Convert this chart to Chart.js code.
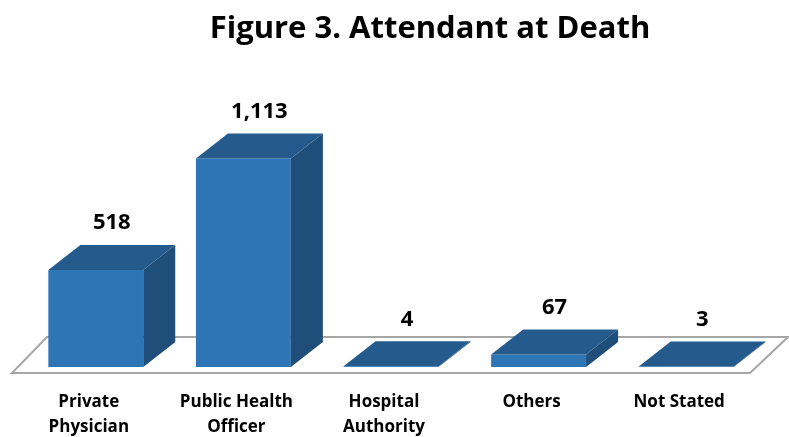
<!DOCTYPE html>
<html>
<head>
<meta charset="utf-8">
<script src="https://cdn.jsdelivr.net/npm/chart.js@4.4.1/dist/chart.umd.min.js"></script>
<style>
  html, body { margin: 0; padding: 0; background: #fff; }
  #wrap { width: 789px; height: 437px; }
</style>
</head>
<body>
<div id="wrap"><canvas id="attendantChart" width="789" height="437"></canvas></div>
<script>
const categories = [['Private', 'Physician'], ['Public Health', 'Officer'], ['Hospital', 'Authority'], 'Others', 'Not Stated'];
const attendantCounts = [518, 1113, 4, 67, 3];
const chartTitle = 'Figure 3. Attendant at Death';

// colours for the 3D faces
const frontColor = '#2E75B6';
const topColor = '#255A8C';
const sideColor = '#1F4E7A';
const depthX = 32;
const depthY = -25;
const fontFamily = '"Open Sans", sans-serif';

const bar3d = {
    id: 'bar3d',
    afterLayout(chart) {
        // Excel centres the title a bit right of the canvas centre
        const t = chart.titleBlock;
        if (t) { t.left += 39; t.right += 39; }
    },
    beforeDatasetsDraw(chart) {
        const { ctx, chartArea } = chart;
        const base = chart.scales.y.getPixelForValue(0);
        const fy = base + 6;
        const by = base - 30;
        ctx.save();
        ctx.beginPath();
        ctx.moveTo(chartArea.left - 10, fy);
        ctx.lineTo(chartArea.right - 10, fy);
        ctx.lineTo(chartArea.right + 28, by);
        ctx.lineTo(chartArea.left + 25, by);
        ctx.closePath();
        ctx.fillStyle = '#fff';
        ctx.fill();
        ctx.strokeStyle = '#A6A6A6';
        ctx.lineWidth = 2;
        ctx.stroke();
        ctx.restore();
    },
    afterDatasetsDraw(chart) {
        const { ctx } = chart;
        const meta = chart.getDatasetMeta(0);
        ctx.save();
        meta.data.forEach((el, i) => {
            const { x, y, base, width } = el.getProps(['x', 'y', 'base', 'width'], true);
            const l = x - width / 2;
            const r = x + width / 2;

            // top face
            ctx.beginPath();
            ctx.moveTo(l, y);
            ctx.lineTo(l + depthX, y + depthY);
            ctx.lineTo(r + depthX, y + depthY);
            ctx.lineTo(r, y);
            ctx.closePath();
            ctx.fillStyle = topColor;
            ctx.fill();

            // side face
            ctx.beginPath();
            ctx.moveTo(r, y);
            ctx.lineTo(r + depthX, y + depthY);
            ctx.lineTo(r + depthX, base + depthY);
            ctx.lineTo(r, base);
            ctx.closePath();
            ctx.fillStyle = sideColor;
            ctx.fill();

            // value label
            ctx.fillStyle = '#000';
            ctx.font = 'bold 22px ' + fontFamily;
            ctx.textAlign = 'center';
            ctx.textBaseline = 'middle';
            ctx.fillText(attendantCounts[i].toLocaleString('en-US'), x + depthX / 2, y + depthY - 22);
        });
        ctx.restore();
    }
};

new Chart(document.getElementById('attendantChart'), {
    type: 'bar',
    data: {
        labels: categories,
        datasets: [{
            label: 'Attendant at Death',
            data: attendantCounts,
            backgroundColor: frontColor,
            borderWidth: 0,
            barPercentage: 0.643,
            categoryPercentage: 1
        }]
    },
    options: {
        responsive: false,
        animation: false,
        layout: {
            padding: { left: 22, right: 29, top: 0, bottom: 0 }
        },
        plugins: {
            legend: { display: false },
            tooltip: { enabled: false },
            title: {
                display: true,
                text: chartTitle,
                color: '#000',
                font: { family: fontFamily, size: 31, weight: 'bold', lineHeight: 1.2 },
                padding: { top: 11, bottom: 94 }
            }
        },
        scales: {
            y: {
                display: false,
                min: 0,
                max: 1200
            },
            x: {
                grid: { display: false, drawTicks: false },
                border: { display: false },
                afterFit: (scale) => { scale.height = 70; },
                ticks: {
                    color: '#000',
                    padding: 22,
                    labelOffset: -7,
                    maxRotation: 0,
                    autoSkip: false,
                    font: { family: fontFamily, size: 17, weight: 'bold', lineHeight: 1.5 }
                }
            }
        }
    },
    plugins: [bar3d]
});
</script>
</body>
</html>
